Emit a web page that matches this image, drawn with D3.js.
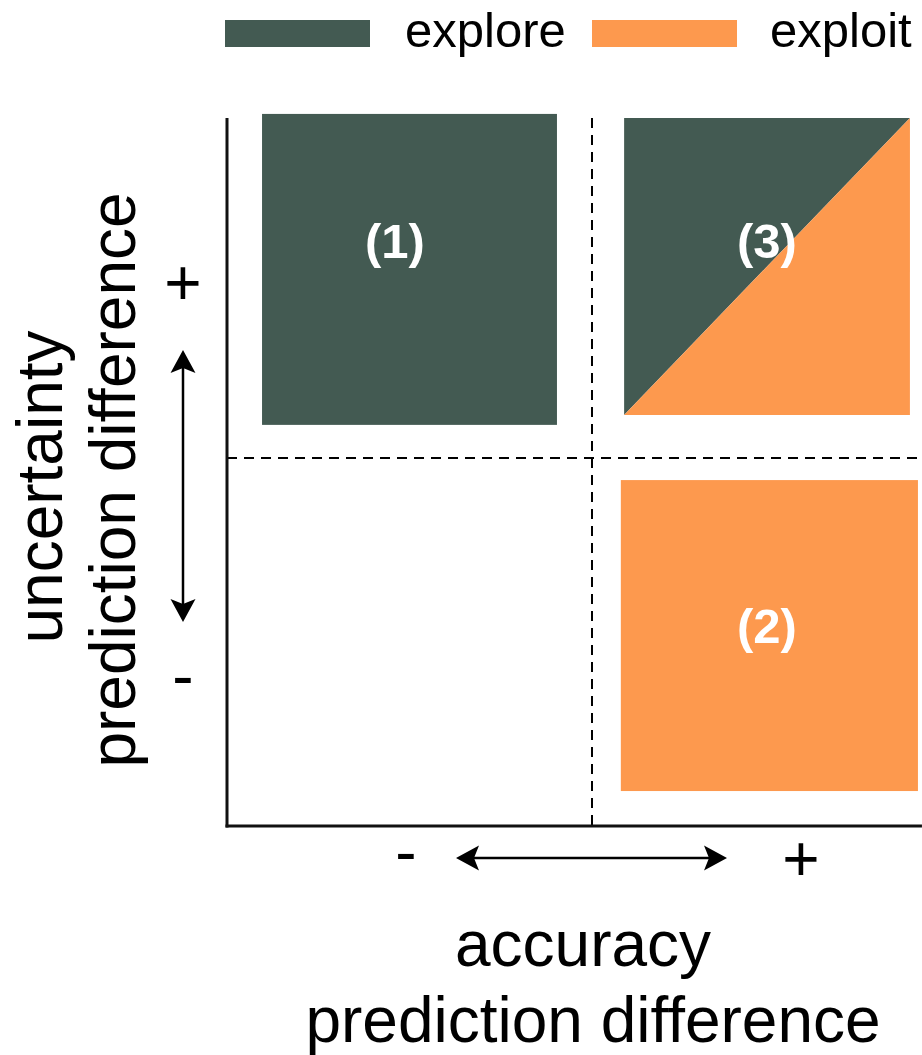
<!DOCTYPE html>
<html>
<head>
<meta charset="utf-8">
<script src="https://cdn.jsdelivr.net/npm/d3@7"></script>
<style>
  html, body { margin: 0; padding: 0; background: #fff; }
  svg { display: block; }
  text { font-family: "Liberation Sans", Arial, Helvetica, sans-serif; }
</style>
</head>
<body>
<script>
// ---- data ----
const legendItems = ["explore", "exploit"];
const legendColors = ["#435a52", "#fd994e"];

// quadrant boxes in data units (x: accuracy diff, y: uncertainty diff)
const boxNames = ["(1)", "(3)", "(2)"];
const boxX0 = [-0.904, 0.088, 0.079];
const boxX1 = [-0.096, 0.871, 0.893];
const boxY0 = [0.090, 0.117, -0.905];
const boxY1 = [0.935, 0.924, -0.060];
const boxKind = ["explore", "split", "exploit"];
const labelX = [-0.540, 0.479, 0.479];
const labelY = [0.543, 0.543, -0.503];

const xTickLabels = ["-", "+"];
const yTickLabels = ["+", "-"];
const xTitle = ["accuracy", "prediction difference"];
const yTitle = ["uncertainty", "prediction difference"];

// ---- layout ----
const W = 922, H = 1055;
const x = d3.scaleLinear().domain([-1, 1]).range([227, 957]);
const y = d3.scaleLinear().domain([-1, 1]).range([826, 90]);
const color = d3.scaleOrdinal().domain(legendItems).range(legendColors);

const svg = d3.select("body").append("svg").attr("width", W).attr("height", H);

// legend
const legendRectX = [225, 592];
const legendTextX = [405, 770];
legendItems.forEach((k, i) => {
  svg.append("rect").attr("x", legendRectX[i]).attr("y", 20).attr("width", 145).attr("height", 27)
    .attr("fill", color(k));
  svg.append("text").attr("x", legendTextX[i]).attr("y", 47).attr("font-size", 49)
    .attr("fill", "#000").text(k);
});

// boxes
boxNames.forEach((n, i) => {
  const X0 = x(boxX0[i]), X1 = x(boxX1[i]), Ytop = y(boxY1[i]), Ybot = y(boxY0[i]);
  if (boxKind[i] === "split") {
    svg.append("path").attr("d", `M${X0},${Ytop}L${X1},${Ytop}L${X0},${Ybot}Z`).attr("fill", color("explore"));
    svg.append("path").attr("d", `M${X1},${Ytop}L${X1},${Ybot}L${X0},${Ybot}Z`).attr("fill", color("exploit"));
  } else {
    svg.append("rect").attr("x", X0).attr("y", Ytop).attr("width", X1 - X0).attr("height", Ybot - Ytop)
      .attr("fill", color(boxKind[i]));
  }
  svg.append("text").attr("x", x(labelX[i])).attr("y", y(labelY[i]))
    .attr("text-anchor", "middle").attr("font-size", 49).attr("font-weight", "bold")
    .attr("fill", "#fff").text(n);
});

// dashed quadrant dividers
svg.append("line").attr("x1", x(0)).attr("x2", x(0)).attr("y1", y(0.924)).attr("y2", y(-1))
  .attr("stroke", "#000").attr("stroke-width", 2).attr("stroke-dasharray", "10,7");
svg.append("line").attr("x1", x(-1)).attr("x2", x(0.904)).attr("y1", y(0)).attr("y2", y(0))
  .attr("stroke", "#000").attr("stroke-width", 2).attr("stroke-dasharray", "10,7");

// axes
svg.append("line").attr("x1", x(-1)).attr("x2", x(-1)).attr("y1", y(0.924)).attr("y2", y(-1) + 1.5)
  .attr("stroke", "#111").attr("stroke-width", 3);
svg.append("line").attr("x1", x(-1) - 1.5).attr("x2", x(0.904)).attr("y1", y(-1)).attr("y2", y(-1))
  .attr("stroke", "#111").attr("stroke-width", 3);

// double-headed arrows
const headPath = "M0,0L-23,-12.5L-18,0L-23,12.5Z"; // tip at origin, pointing +x
function arrow(x1, y1, x2, y2) {
  const ang = Math.atan2(y2 - y1, x2 - x1);
  const dx = Math.cos(ang) * 18, dy = Math.sin(ang) * 18;
  svg.append("line").attr("x1", x1 + dx).attr("y1", y1 + dy).attr("x2", x2 - dx).attr("y2", y2 - dy)
    .attr("stroke", "#000").attr("stroke-width", 2.5);
  const deg = ang * 180 / Math.PI;
  svg.append("path").attr("d", headPath).attr("fill", "#000")
    .attr("transform", `translate(${x2},${y2}) rotate(${deg})`);
  svg.append("path").attr("d", headPath).attr("fill", "#000")
    .attr("transform", `translate(${x1},${y1}) rotate(${deg + 180})`);
}
arrow(183, 350, 183, 622);
arrow(456, 858, 727, 858);

// tick labels
const xTickPos = [406, 801];
xTickLabels.forEach((t, i) => {
  svg.append("text").attr("x", xTickPos[i]).attr("y", t === "+" ? 881 : 874)
    .attr("text-anchor", "middle").attr("font-size", 64).text(t);
});
const yTickPos = [305, 698];
yTickLabels.forEach((t, i) => {
  svg.append("text").attr("x", 183).attr("y", yTickPos[i])
    .attr("text-anchor", "middle").attr("font-size", 64).text(t);
});

// axis titles
svg.append("text").attr("x", 583).attr("y", 966).attr("text-anchor", "middle").attr("font-size", 64).text(xTitle[0]);
svg.append("text").attr("x", 593).attr("y", 1042).attr("text-anchor", "middle").attr("font-size", 64).text(xTitle[1]);
svg.append("text").attr("transform", "translate(62,487) rotate(-90)").attr("text-anchor", "middle").attr("font-size", 64).text(yTitle[0]);
svg.append("text").attr("transform", "translate(135,480) rotate(-90)").attr("text-anchor", "middle").attr("font-size", 64).text(yTitle[1]);
</script>
</body>
</html>
